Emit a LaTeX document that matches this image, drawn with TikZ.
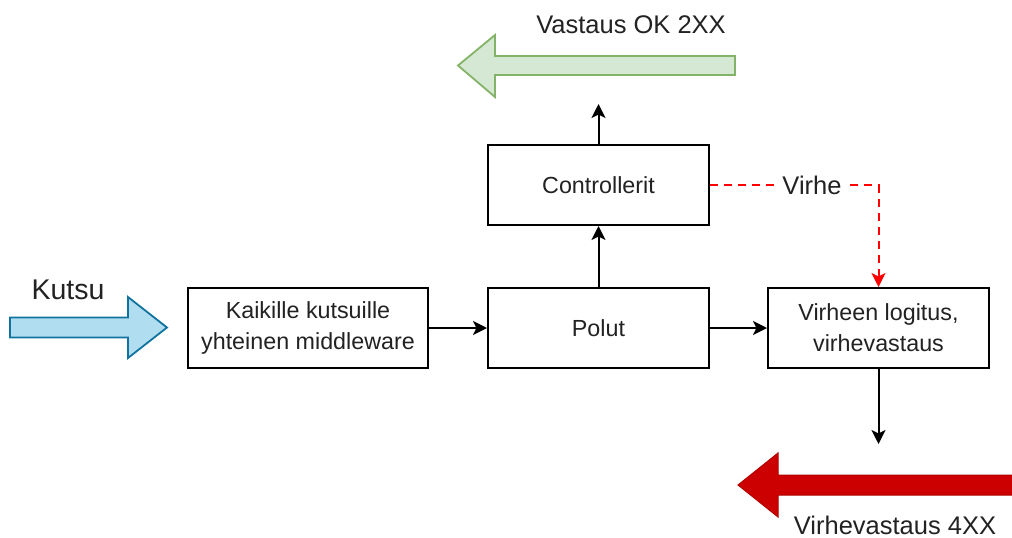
\documentclass[tikz,border=0pt]{standalone}
\usepackage{fontspec}
\setmainfont{Liberation Sans}
\usetikzlibrary{arrows.meta}
\definecolor{greenfill}{HTML}{D5E8D4}
\definecolor{greenline}{HTML}{82B366}
\definecolor{bluefill}{HTML}{B1DDF0}
\definecolor{blueline}{HTML}{10739E}
\definecolor{redfill}{HTML}{CC0000}
\definecolor{redline}{HTML}{B20000}
\definecolor{txt}{HTML}{222222}
\begin{document}
\begin{tikzpicture}[x=1pt,y=-1pt,
  box/.style={draw=black,line width=2pt,fill=white,rectangle,align=center,
    minimum height=80pt,text=txt,font=\fontsize{23.3}{31}\selectfont,inner sep=0pt},
  lbl/.style={text=txt,font=\fontsize{25.5}{30}\selectfont,inner sep=1pt},
  conn/.style={line width=2pt,-{Stealth[length=14pt,width=14pt,inset=3.5pt]}},
  errconn/.style={conn,draw=red,dash pattern=on 8pt off 6pt}
]
\useasboundingbox (0,0) rectangle (1012,538);
% big arrows
\fill[greenfill,draw=greenline,line width=1.8pt,line join=miter]
  (735,56) -- (495,56) -- (495,35) -- (458,65.5) -- (495,97) -- (495,75) -- (735,75) -- cycle;
\fill[bluefill,draw=blueline,line width=1.8pt,line join=miter]
  (10,317.5) -- (128,317.5) -- (128,297) -- (167,327.5) -- (128,358) -- (128,337.5) -- (10,337.5) -- cycle;
\fill[redfill,draw=redline,line width=1pt,line join=miter]
  (1016,475) -- (778,475) -- (778,453) -- (738,485) -- (778,517) -- (778,495) -- (1016,495) -- cycle;
% labels
\node[lbl] (okl) at (631,25) {Vastaus OK 2XX};
\node[lbl,font=\fontsize{28.5}{32}\selectfont] (kutsul) at (68,290) {Kutsu};
\node[lbl] (errl) at (895,525) {Virhevastaus 4XX};
% boxes
\node[box,minimum width=240pt] (mw) at (308,328) {Kaikille kutsuille\\yhteinen middleware};
\node[box,minimum width=221pt] (polut) at (598.5,328) {Polut};
\node[box,minimum width=221pt] (ctrl) at (598.5,185) {Controllerit};
\node[box,minimum width=221pt] (virh) at (878.5,328) {Virheen logitus,\\virhevastaus};
\coordinate (up) at (598.5,104);
\coordinate (down) at (878.5,444);
\coordinate (corner) at (878.5,185);
% connectors
\draw[conn] (mw) -- (polut);
\draw[conn] (polut) -- (virh);
\draw[conn] (polut) -- (ctrl);
\draw[conn] (ctrl) -- (up);
\draw[conn] (virh) -- (down);
\draw[errconn] (ctrl.east) -- (corner) -- (virh.north);
\node[lbl,fill=white,inner xsep=4pt] (virhe) at (812,185) {Virhe};
\end{tikzpicture}
\end{document}
